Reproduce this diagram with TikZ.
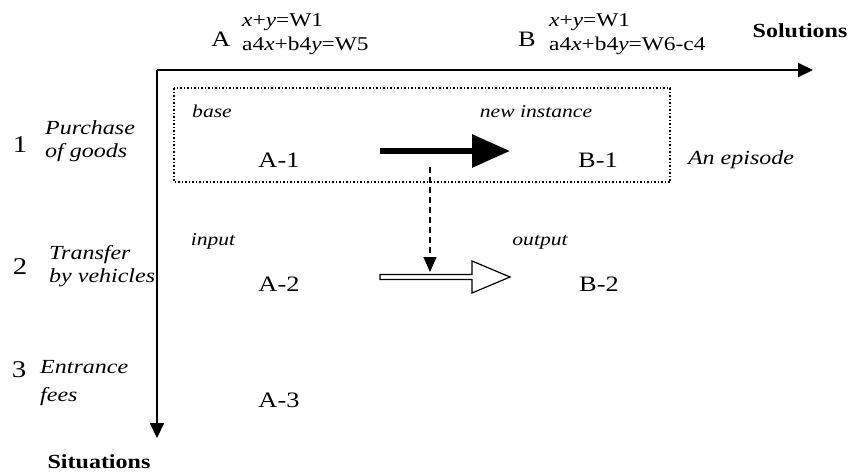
\documentclass[tikz,border=0pt]{standalone}
\usepackage{fontspec}
\setmainfont{Liberation Serif}[FakeStretch=1.2]
\usetikzlibrary{arrows.meta,positioning}

\begin{document}
\begin{tikzpicture}[x=1pt, y=1pt,
 big/.style={font=\fontsize{22}{24}\selectfont, inner sep=0pt},
 num/.style={font=\fontsize{24}{26}\selectfont, inner sep=0pt},
 eqn/.style={font=\fontsize{19.5}{24}\selectfont, align=left, inner sep=0pt, anchor=north west},
 tag/.style={font=\fontsize{18}{22}\selectfont\itshape, inner sep=0pt, anchor=base},
 rowlab/.style={font=\fontsize{20}{23}\selectfont\itshape, align=left, inner sep=0pt, anchor=north west},
 axlab/.style={font=\fontsize{20}{22}\selectfont\bfseries, inner sep=0pt},
 axisline/.style={line width=2pt, -{Triangle[length=15pt, width=14pt]}},
 solidarr/.style={line width=6pt, -{Triangle[length=38pt, width=32pt]}},
 hollowarr/.style={line width=1.2pt, fill=white, line join=miter},
 link/.style={line width=1.2pt, dash pattern=on 6pt off 4pt, -{Triangle[length=15pt, width=13pt]}},
 episode/.style={line width=1.5pt, dash pattern=on 1.5pt off 2pt}]

 \useasboundingbox (0,0) rectangle (850,-475);

 % --- axes ---
 \coordinate (origin) at (157,-70);
 \coordinate (xend) at (813,-70);
 \coordinate (yend) at (157,-438);
 \draw[axisline] (origin) -- (xend);
 \draw[axisline] (origin) -- (yend);
 \node[axlab] (sol) at (800,-31) {Solutions};
 \node[axlab] (sit) at (99,-462) {Situations};

 % --- solutions A and B ---
 \node[big] (solA) at (221,-39) {A};
 \node[eqn] (eqA) at (242,-13) {\textit{x}+\textit{y}=W1\\a4\textit{x}+b4\textit{y}=W5};
 \node[big] (solB) at (527,-39) {B};
 \node[eqn] (eqB) at (549,-13) {\textit{x}+\textit{y}=W1\\a4\textit{x}+b4\textit{y}=W6-c4};

 % --- situations 1 to 3 ---
 \node[num] (n1) at (20,-145) {1};
 \node[rowlab] (sit1) at (45,-120) {Purchase\\of goods};
 \node[num] (n2) at (20,-267) {2};
 \node[rowlab] (sit2) at (49,-245) {Transfer\\by vehicles};
 \node[num] (n3) at (19,-370) {3};
 \node[rowlab, font=\fontsize{20}{28}\selectfont\itshape] (sit3) at (40,-360) {Entrance\\fees};

 % --- cells ---
 \node[big] (a1) at (279,-160) {A-1};
 \node[big] (b1) at (598,-160) {B-1};
 \node[big] (a2) at (279,-284) {A-2};
 \node[big] (b2) at (599,-284) {B-2};
 \node[big] (a3) at (279,-400) {A-3};

 \node[tag] (base) at (212,-117) {base};
 \node[tag] (inst) at (536,-117) {new instance};
 \node[tag] (inp) at (213,-245) {input};
 \node[tag] (outp) at (540,-245) {output};

 % --- episode ---
 \draw[episode] (174,-88) rectangle (670,-182);
 \node[tag, font=\fontsize{20}{22}\selectfont\itshape, anchor=center] (epi) at (741,-160) {An episode};

 \coordinate (s1) at (380,-151);
 \coordinate (e1) at (510,-151);
 \draw[solidarr] (s1) -- (e1);

 \coordinate (d1) at (430,-167);
 \coordinate (d2) at (430,-272);
 \draw[link] (d1) -- (d2);

 \coordinate (s2) at (380,-277);
 \coordinate (e2) at (510,-277);
 \draw[hollowarr] (s2) ++(0,2.5) -- ++(92,0) -- ++(0,13.5) -- (e2)
   -- ++(-38,-16) -- ++(0,13.5) -- ++(-92,0) -- cycle;
\end{tikzpicture}
\end{document}
